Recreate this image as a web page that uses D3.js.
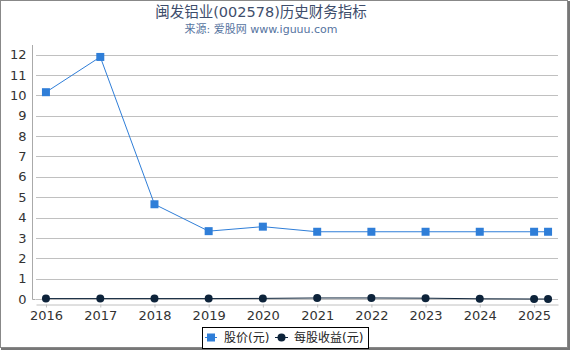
<!DOCTYPE html>
<html lang="zh">
<head>
<meta charset="utf-8">
<title>闽发铝业(002578)历史财务指标</title>
<script src="https://cdn.jsdelivr.net/npm/d3@7"></script>
<style>
  body { margin: 0; background: #fff; }
  svg { display: block; font-family: "DejaVu Sans", "Noto Sans CJK SC", sans-serif; }
  .grid line { stroke: #c0c0c0; stroke-width: 1; shape-rendering: crispEdges; }
  .axis text { fill: #333; font-size: 13px; font-family: "DejaVu Sans", sans-serif; }
</style>
</head>
<body>
<script>
// report dates (the last one is a partial-year point)
var dates = ["2016-01-01", "2017-01-01", "2018-01-01", "2019-01-01", "2020-01-01",
             "2021-01-01", "2022-01-01", "2023-01-01", "2024-01-01", "2025-01-01", "2025-04-05"];
var price = [10.15, 11.88, 4.65, 3.33, 3.55, 3.3, 3.3, 3.3, 3.3, 3.3, 3.3];
var eps   = [0.02, 0.02, 0.02, 0.02, 0.03, 0.05, 0.05, 0.04, 0.01, 0.0, 0.0];
var yTicks = [0, 1, 2, 3, 4, 5, 6, 7, 8, 9, 10, 11, 12];
var seriesNames = ["股价(元)", "每股收益(元)"];

var w = 570, h = 350;
var plotLeft = 36, plotRight = 558, plotTop = 54.5, plotBottom = 299;
var parse = d3.timeParse("%Y-%m-%d");

var svg = d3.select("body").append("svg").attr("width", w).attr("height", h);

// frame
svg.append("rect").attr("x", 0.5).attr("y", 0.5).attr("width", 567).attr("height", 347)
   .attr("fill", "#fff").attr("stroke", "#888");
svg.append("line").attr("x1", 569).attr("x2", 569).attr("y1", 1).attr("y2", 350)
   .attr("stroke", "#777").attr("stroke-width", 2);
svg.append("line").attr("x1", 1).attr("x2", 570).attr("y1", 349).attr("y2", 349)
   .attr("stroke", "#777").attr("stroke-width", 2);

// titles
svg.append("text").attr("x", 261).attr("y", 17).attr("text-anchor", "middle")
   .attr("font-size", "14.5px").attr("fill", "#3e4d6b").text("闽发铝业(002578)历史财务指标");
svg.append("text").attr("x", 261).attr("y", 33).attr("text-anchor", "middle")
   .attr("font-size", "11px").attr("fill", "#5573a0").text("来源: 爱股网 www.iguuu.com");

var x = d3.scaleTime()
  .domain([parse("2015-10-26"), parse("2025-06-11")])
  .range([plotLeft, plotRight]);
var y = d3.scaleLinear().domain([0, 12]).range([plotBottom, plotTop]);

// grid
svg.append("g").attr("class", "grid")
  .selectAll("line").data(yTicks).enter().append("line")
  .attr("x1", plotLeft).attr("x2", plotRight)
  .attr("y1", function(d) { return Math.round(y(d)) + 0.5; })
  .attr("y2", function(d) { return Math.round(y(d)) + 0.5; });

// y axis
var yAxis = d3.axisLeft(y).tickValues(yTicks).tickSize(0).tickPadding(6);
var gy = svg.append("g").attr("class", "axis")
  .attr("transform", "translate(32.5,0)").call(yAxis);
gy.select(".domain").attr("stroke", "#aaa").attr("d", "M0,45V299.5H3");

// x axis
var xTicks = d3.range(2016, 2026).map(function(yr) { return new Date(yr, 0, 1); });
var xAxis = d3.axisBottom(x).tickValues(xTicks).tickFormat(d3.timeFormat("%Y"))
  .tickSizeInner(3).tickSizeOuter(0).tickPadding(3);
var gx = svg.append("g").attr("class", "axis")
  .attr("transform", "translate(0,304.5)").call(xAxis);
gx.select(".domain").attr("stroke", "#c0c0c0");
gx.selectAll(".tick line").attr("stroke", "#c0c0c0");

// series
var pts = dates.map(function(d, i) { return { t: parse(d), p: price[i], e: eps[i] }; });

var linePrice = d3.line().x(function(d) { return x(d.t); }).y(function(d) { return y(d.p); });
var lineEps = d3.line().x(function(d) { return x(d.t); }).y(function(d) { return y(d.e); });

svg.append("path").datum(pts).attr("d", linePrice)
  .attr("fill", "none").attr("stroke", "#2f7ed8").attr("stroke-width", 1);
svg.append("path").datum(pts).attr("d", lineEps)
  .attr("fill", "none").attr("stroke", "#0d233a").attr("stroke-width", 1);

svg.selectAll("rect.mp").data(pts).enter().append("rect").attr("class", "mp")
  .attr("x", function(d) { return x(d.t) - 4; })
  .attr("y", function(d) { return y(d.p) - 4; })
  .attr("width", 8).attr("height", 8).attr("fill", "#2f7ed8");

svg.selectAll("circle.me").data(pts).enter().append("circle").attr("class", "me")
  .attr("cx", function(d) { return x(d.t); })
  .attr("cy", function(d) { return y(d.e); })
  .attr("r", 4).attr("fill", "#0d233a");

// legend
var lg = svg.append("g");
lg.append("rect").attr("x", 202.5).attr("y", 327.5).attr("width", 166).attr("height", 21)
  .attr("fill", "#fff").attr("stroke", "#000");
lg.append("line").attr("x1", 205).attr("x2", 217).attr("y1", 337.5).attr("y2", 337.5)
  .attr("stroke", "#2f7ed8");
lg.append("rect").attr("x", 207).attr("y", 333.5).attr("width", 8).attr("height", 8).attr("fill", "#2f7ed8");
lg.append("text").attr("x", 224).attr("y", 342).attr("font-size", "12px").attr("fill", "#222")
  .text(seriesNames[0]);
lg.append("line").attr("x1", 275).attr("x2", 288).attr("y1", 337.5).attr("y2", 337.5)
  .attr("stroke", "#0d233a");
lg.append("circle").attr("cx", 281.5).attr("cy", 337.5).attr("r", 4).attr("fill", "#0d233a");
lg.append("text").attr("x", 294).attr("y", 342).attr("font-size", "12px").attr("fill", "#222")
  .text(seriesNames[1]);
</script>
</body>
</html>
